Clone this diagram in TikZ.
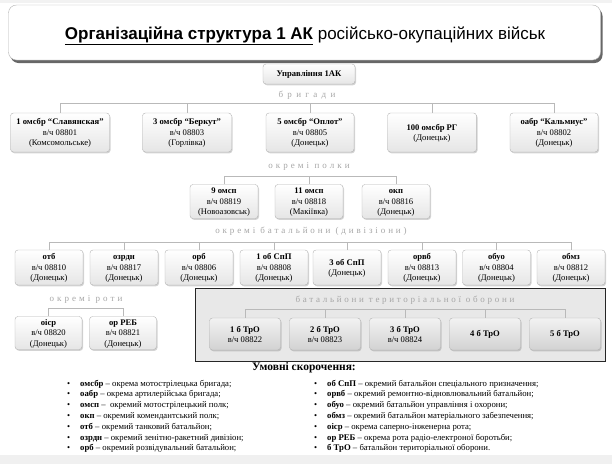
\documentclass[tikz,border=0pt]{standalone}
\usepackage{fontspec}
\setmainfont{Liberation Serif}
\newfontfamily\titlefont{Liberation Sans}
\usetikzlibrary{shadows}
\newcommand{\vch}[1]{в/ч #1}
\newcommand{\hd}[1]{\textbf{\strut #1}}
\newcommand{\grptext}[2]{\addfontfeature{LetterSpace=#1}#2}

\begin{document}
\begin{tikzpicture}[x=1pt,y=-1pt, font=\fontsize{8.6}{10.4}\selectfont,
  unit/.style={draw=gray!60, rounded corners=3pt, top color=white, bottom color=gray!20,
    align=center, inner sep=1pt,
    drop shadow={shadow xshift=1pt, shadow yshift=-1.3pt, opacity=.35}},
  tro/.style={unit, top color=gray!10, bottom color=gray!35, minimum width=71pt, minimum height=32pt},
  grp/.style={text=gray!70, font=\fontsize{9}{10}\selectfont},
  bus/.style={draw=gray!55, line width=.6pt},
  legend/.style={anchor=west, inner sep=0pt, font=\fontsize{8.7}{9}\selectfont}]
\useasboundingbox (0,0) rectangle (612,464);
\fill[gray!10] (0,0) rectangle (612,2.5);
\fill[gray!12] (0,455) rectangle (612,464);

% title
\node[draw=gray!60, fill=white, rounded corners=8pt, minimum width=592pt, minimum height=55pt,
  drop shadow={shadow xshift=2pt, shadow yshift=-3pt, fill=gray!60!black, opacity=.85}]
  (title) at (304.5,32.5) {};
\node (titletext) at (305,36) {\titlefont\fontsize{17}{20}\selectfont
  \underline{\textbf{Організаційна структура 1 АК}} російсько-окупаційних військ};

\node[unit, minimum width=92pt, minimum height=20pt] (upr) at (309,74) {\hd{Управління 1АК}};

% brigades
\node[grp] (lblbr) at (307,95) {\grptext{48}{бригади}};
\foreach \n/\x/\w/\txt in {1/60/99/{\hd{1 омсбр “Славянская”}\\\vch{08801}\\(Комсомольське)},
  2/187/89/{\hd{3 омсбр “Беркут”}\\\vch{08803}\\(Горлівка)},
  3/310/88/{\hd{5 омсбр “Оплот”}\\\vch{08805}\\(Донецьк)},
  4/432/89/{\hd{100 омсбр РГ}\\(Донецьк)},
  5/554/88/{\hd{оабр “Кальмиус”}\\\vch{08802}\\(Донецьк)}}
\node[unit, minimum width=\w pt, minimum height=39pt] (br\n) at (\x,132.5) {\txt};
\coordinate (brbus) at (0,103);
\foreach \n in {1,...,5}
\draw[bus] (br\n.north) -- (br\n.north |- brbus);
\draw[bus] (br1.north |- brbus) -- (br5.north |- brbus);

% regiments
\node[grp] (lblpol) at (309,166) {\grptext{34}{окремі полки}};
\foreach \n/\x/\txt in {1/224/{\hd{9 омсп}\\\vch{08819}\\(Новоазовськ)},
  2/309/{\hd{11 омсп}\\\vch{08818}\\(Макіївка)},
  3/396/{\hd{окп}\\\vch{08816}\\(Донецьк)}}
\node[unit, minimum width=68pt, minimum height=34pt] (pol\n) at (\x,201.5) {\txt};
\coordinate (polbus) at (0,176);
\foreach \n in {1,2,3}
\draw[bus] (pol\n.north) -- (pol\n.north |- polbus);
\draw[bus] (pol1.north |- polbus) -- (pol3.north |- polbus);

% battalions
\node[grp] (lblbat) at (311,231) {\grptext{32}{окремі батальйони (дивізіони)}};
\foreach \n/\x/\txt in {1/49/{\hd{отб}\\\vch{08810}\\(Донецьк)},
  2/124/{\hd{озрдн}\\\vch{08817}\\(Донецьк)},
  3/199/{\hd{орб}\\\vch{08806}\\(Донецьк)},
  4/274/{\hd{1 об СпП}\\\vch{08808}\\(Донецьк)},
  5/347/{\hd{3 об СпП}\\(Донецьк)},
  6/422/{\hd{орвб}\\\vch{08813}\\(Донецьк)},
  7/496.5/{\hd{обуо}\\\vch{08804}\\(Донецьк)},
  8/571/{\hd{обмз}\\\vch{08812}\\(Донецьк)}}
\node[unit, minimum width=68pt, minimum height=35pt] (bat\n) at (\x,267.5) {\txt};
\coordinate (batbus) at (0,242);
\foreach \n in {1,...,8}
\draw[bus] (bat\n.north) -- (bat\n.north |- batbus);
\draw[bus] (bat1.north |- batbus) -- (bat8.north |- batbus);

% companies
\node[grp] (lblrot) at (86,299) {\grptext{34}{окремі роти}};
\foreach \n/\x/\txt in {1/48.5/{\hd{оіср}\\\vch{08820}\\(Донецьк)},
  2/123/{\hd{ор РЕБ}\\\vch{08821}\\(Донецьк)}}
\node[unit, minimum width=67pt, minimum height=33pt] (rot\n) at (\x,333) {\txt};
\coordinate (rotbus) at (0,308);
\foreach \n in {1,2}
\draw[bus] (rot\n.north) -- (rot\n.north |- rotbus);
\draw[bus] (rot1.north |- rotbus) -- (rot2.north |- rotbus);

% territorial defence
\draw[draw=gray!30!black, line width=.8pt, fill=gray!18] (195,288) rectangle (605,361);
\node[grp] (lbltro) at (405,300) {\grptext{30}{батальйони територіальної оборони}};
\foreach \n/\x/\txt in {1/245/{\hd{1 б ТрО}\\\vch{08822}},
  2/325/{\hd{2 б ТрО}\\\vch{08823}},
  3/405/{\hd{3 б ТрО}\\\vch{08824}},
  4/485/{\hd{4 б ТрО}},
  5/565/{\hd{5 б ТрО}}}
\node[tro] (tro\n) at (\x,334) {\txt};
\coordinate (trobus) at (0,309);
\foreach \n in {1,...,5}
\draw[bus] (tro\n.north) -- (tro\n.north |- trobus);
\draw[bus] (tro1.north |- trobus) -- (tro5.north |- trobus);

% legend
\node[font=\fontsize{11.5}{12}\selectfont\bfseries] (lgd) at (304,368) {Умовні скорочення:};
\foreach \ab/\txt [count=\i from 0] in {омсбр/окрема мотострілецька бригада;,
  оабр/окрема артилерійська бригада;,
  омсп/{\ }окремий мотострілецький полк;,
  окп/окремий комендантський полк;,
  отб/окремий танковий батальйон;,
  озрдн/окремий зенітно-ракетний дивізіон;,
  орб/окремий розвідувальний батальйон;}
\node[legend] (lgl\i) at (67,384+10.8*\i) {\makebox[13pt][l]{\textbullet}\textbf{\ab} – \txt};
\foreach \ab/\txt [count=\i from 0] in {об СпП/окремий батальйон спеціального призначення;,
  орвб/окремий ремонтно-відновлювальний батальйон;,
  обуо/окремий батальйон управління і охорони;,
  обмз/окремий батальйон матеріального забезпечення;,
  оіср/окрема саперно-інженерна рота;,
  ор РЕБ/окрема рота радіо-електроної боротьби;,
  б ТрО/батальйон територіальної оборони.}
\node[legend] (lgr\i) at (314,384+10.8*\i) {\makebox[13pt][l]{\textbullet}\textbf{\ab} – \txt};

\end{tikzpicture}
\end{document}
